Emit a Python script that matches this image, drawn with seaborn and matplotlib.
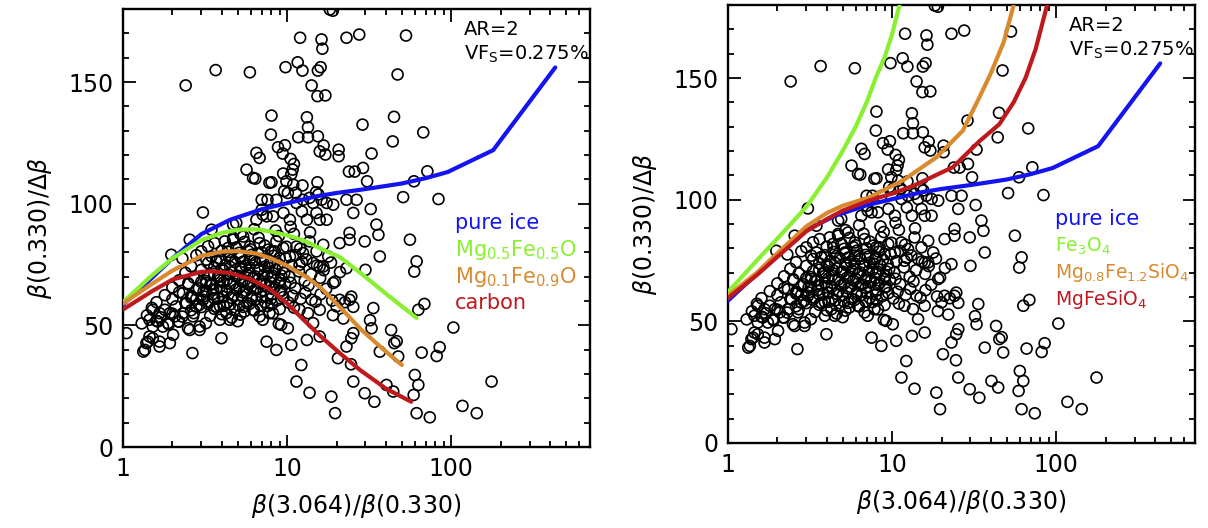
import numpy as np
import pandas as pd
import matplotlib
matplotlib.use("Agg")
import matplotlib.pyplot as plt
from matplotlib.ticker import LogLocator, FixedLocator, MultipleLocator, NullFormatter
import seaborn as sns

# ---------------- observed points (same in both panels) ----------------
sparse_x = [18.2, 19.0, 12.0, 16.2, 16.4, 23.0, 27.5, 53, 47.1,
            2.41, 3.67, 5.93, 9.78, 11.6, 12.4, 15.4, 16.0, 14.1, 15.3, 17.1,
            8.03, 13.2, 13.4, 7.96, 11.7, 13.4, 15.4, 8.8, 9.7, 9.4, 10.5,
            15.8, 16.7, 17.1, 20.6, 20.6, 6.5, 6.8, 11.0, 10.8, 5.66, 6.4,
            23.8, 25.8, 8.03, 9.46, 9.9, 12.4, 15.3, 3.07, 15.0, 10.1, 10.9,
            7.0, 7.6, 8.6, 12.5, 14.4, 16.2, 19.1, 23.0, 25.3, 7.0, 7.5,
            28.8, 44.8, 44.0, 67.5, 32.7, 29, 30.7, 71.5, 59.3, 50.9, 83.6,
            26.5, 32.3, 56, 61.5, 59.5, 36.7, 35, 36, 29.7, 63, 68.6, 103,
            43, 45, 46.5, 66, 81.5, 85, 33.5, 32, 32.7, 25.3, 24.6, 23, 36.7,
            47.5, 25.3, 29.7, 34, 40.3, 44.3, 60, 63, 59, 61.5, 74, 176, 117, 143,
            1.05, 1.33, 1.45, 1.67, 1.52, 1.39, 1.93, 2.02, 2.65, 3.98, 2.93, 2.49,
            7.5, 8.6, 10.6, 12.2, 11.4, 13.7, 18.6, 19.6, 13.2, 15.8, 20.4,
            25.3, 24.6, 20.9, 24, 24, 22.5, 24.5, 30, 19, 22,
            4.47, 5.5, 6.2, 7.1, 7.8, 9.2, 10.1, 11.9, 13.4, 14.4]
sparse_y = [179.8, 179.3, 168.2, 167.5, 163.7, 168.2, 169.5, 169.1, 153.1,
            148.6, 154.9, 154.0, 156.1, 158.1, 154.7, 154.7, 156.1, 148.6, 144.2, 144.5,
            136.2, 135.5, 131.4, 128.4, 127.3, 127.3, 127.7, 123.2, 124.0, 120.6, 118.4,
            121.5, 123.9, 120.2, 122.2, 119.5, 120.9, 118.8, 116.3, 114.0, 114.0, 110.3,
            113.2, 113.2, 108.8, 112.4, 109.2, 107.5, 108.8, 96.4, 104.7, 104.4, 107.8,
            101.6, 101.6, 101.6, 101.6, 100.3, 101.6, 99.6, 101.6, 96.2, 97.5, 94.8,
            132.5, 135.7, 125.6, 129.3, 120.6, 114.7, 109.2, 113.3, 109.2, 102.7, 101.9,
            101.6, 97.8, 85.2, 76.3, 72.1, 78.3, 91.4, 87.2, 84.5, 56.4, 58.8, 49.1,
            48.1, 42.7, 43.5, 38.8, 37.4, 41.0, 57.1, 52.1, 48.8, 46.8, 44.7, 41.3, 39.2,
            37.2, 26.9, 22.1, 18.6, 25.5, 22.8, 29.6, 25.5, 21.4, 13.9, 12.2, 26.9, 16.9, 13.9,
            46.8, 39.2, 45.4, 41.3, 49.5, 42.7, 42.7, 46.1, 38.6, 44.7, 48.1, 48.8,
            43.3, 39.9, 42.0, 33.7, 26.9, 22.3, 20.7, 13.9, 44.0, 45.4, 36.5,
            57.6, 61.8, 60.5, 85.2, 88.0, 59.5, 34.0, 72.8, 54.2, 52.8,
            52.3, 55.7, 56.4, 52.3, 55.0, 50.2, 48.8, 56.4, 55.0, 50.9]

mid_x = [3.46, 2.55, 1.97, 3.62, 4.17, 4.69, 4.69, 4.37, 3.0, 3.22, 3.71, 3.46,
         6.2, 7.8, 10.6, 9.6, 11.3, 15.5, 13.7, 11.4, 17.4,
         4.9, 6.5, 7.1, 8.2, 9.5, 10.4, 12.3, 13.2, 15.1, 15.8, 17.4,
         4.69, 5.4, 5.93, 6.8, 7.67, 8.6, 9.47, 10.4, 11.4, 12.5, 13.7, 15.1, 16.6,
         17.8, 5.16, 5.93, 7.86, 9.0, 11.9, 14.4, 15.8,
         1.45, 1.63, 1.67, 1.52, 1.75, 1.88, 1.93, 2.07, 2.17, 2.32, 2.44, 2.61,
         2.8, 3.07, 2.67, 2.32, 2.93, 2.55, 3.22, 3.54, 3.89, 4.07, 3.71, 4.27, 3.89,
         1.52, 1.42, 1.36, 1.67,
         16.6, 19.1, 23, 20.9, 24, 14.1, 15.8, 20]
mid_y = [89.3, 85.2, 79.0, 83.8, 84.5, 85.9, 91.4, 81.8, 80.4, 77.0, 76.3, 78.3,
         110.6, 108.6, 112.1, 105.2, 104.5, 103.8, 102.4, 100.3, 100.3,
         92.1, 93.4, 95.5, 94.8, 96.2, 93.4, 96.8, 93.4, 96.2, 93.4, 93.4,
         85.2, 86.5, 82.4, 83.8, 81.1, 84.5, 81.8, 78.3, 82.4, 79.7, 84.5, 80.4, 83.1,
         78.3, 78.3, 77.0, 75.6, 77.6, 74.9, 75.6, 74.2,
         52.3, 51.6, 55.0, 56.4, 49.5, 50.9, 55.0, 53.7, 51.6, 63.2, 59.1, 61.8,
         57.7, 60.5, 53.7, 55.0, 49.5, 48.1, 67.4, 64.6, 68.7, 61.8, 57.7, 55.0, 52.3,
         44.7, 43.3, 39.9, 43.3,
         74.2, 67.4, 73.5, 83.8, 60.5, 60.5, 56.4, 57.8]

dense_x = [2.3, 2.8, 3.9, 4.4, 5.2, 6.1, 6.9, 8.3, 9.8, 11.2, 13.1,
           2.6, 3.3, 4.2, 4.8, 5.6, 6.4, 7.3, 8.8, 10.6, 12.3, 15.2, 18.5,
           2.4, 3.0, 3.6, 4.1, 4.6, 5.3, 5.9, 6.7, 7.6, 8.5, 9.6, 11.8, 14.0, 16.7, 21.0,
           2.2, 2.7, 3.2, 3.8, 4.3, 4.9, 5.5, 6.2, 7.0, 8.0, 9.1, 10.3, 12.8, 15.9, 19.6,
           2.0, 2.5, 2.9, 3.4, 3.9, 4.5, 5.1, 5.8, 6.6, 7.4, 8.4, 9.7, 11.2, 13.5, 17.3,
           1.8, 2.2, 2.6, 3.1, 3.5, 4.0, 4.7, 5.4, 6.1, 6.9, 8.0, 9.2, 10.8, 12.9, 16.0,
           1.6, 2.0, 2.4, 2.8, 3.3, 3.8, 4.3, 5.0, 5.7, 6.5, 7.3, 8.7, 10.2, 12.1, 14.9, 18.8,
           1.5, 1.8, 2.1, 2.6, 3.0, 3.6, 4.1, 4.8, 5.4, 6.3, 7.6, 9.0, 11.0,
           1.4, 1.7, 2.0, 2.3, 2.7, 3.4, 4.0, 4.6, 5.2, 6.8, 8.2,
           1.3, 1.6, 1.9, 2.2, 3.2, 5.0, 8.9,
           3.3, 4.0, 4.9, 5.5, 6.0, 6.7, 7.3, 8.0, 8.9, 9.9, 11.0, 12.0, 13.8, 5.2, 6.3, 10.5, 8.5]
dense_y = [77.5, 78.8, 77.2, 78.5, 77.9, 79.0, 77.3, 78.6, 77.6, 78.9, 77.1,
           74.3, 75.6, 74.8, 76.0, 74.5, 75.7, 74.1, 75.4, 74.7, 76.1, 74.6, 75.8,
           71.6, 72.8, 71.2, 72.5, 71.8, 73.0, 71.4, 72.6, 71.1, 72.9, 71.5, 72.2, 71.0, 72.7, 71.9,
           68.5, 69.7, 68.2, 69.9, 68.8, 70.1, 68.4, 69.6, 68.1, 69.8, 68.6, 70.0, 68.3, 69.5, 68.0,
           65.6, 66.9, 65.2, 66.6, 65.9, 67.1, 65.4, 66.8, 65.1, 66.5, 65.7, 67.0, 65.3, 66.4, 65.0,
           62.4, 63.6, 62.1, 63.9, 62.7, 64.0, 62.3, 63.5, 62.0, 63.8, 62.6, 64.1, 62.2, 63.3, 62.8,
           59.5, 60.7, 59.2, 60.9, 59.8, 61.0, 59.3, 60.6, 59.1, 60.8, 59.6, 60.3, 59.4, 60.9, 59.7, 60.2,
           57.2, 56.4, 57.8, 56.2, 57.5, 56.8, 58.0, 56.5, 57.6, 56.1, 57.9, 56.7, 57.3,
           54.1, 53.3, 54.8, 53.6, 55.0, 53.9, 54.6, 53.2, 54.4, 53.7, 54.9,
           50.8, 51.9, 50.4, 51.5, 50.9, 51.7, 50.6,
           82.5, 80.7, 82.0, 84.3, 81.2, 86.0, 82.8, 80.4, 86.7, 82.3, 87.6, 81.5, 88.2, 87.5, 89.5, 90.5, 89.0]

core_x = [2.9, 3.3, 3.9, 4.5, 5.1, 5.9, 6.9, 8.1,
          2.6, 3.1, 3.6, 4.1, 4.6, 5.3, 6.1, 7.0, 8.0, 9.5,
          2.8, 3.2, 3.7, 4.3, 4.9, 5.6, 6.4, 7.2, 8.2, 9.0,
          2.5, 3.0, 3.5, 4.1, 4.7, 5.3, 6.0, 6.9, 7.9, 8.9, 10.5,
          3.3, 3.9, 4.4, 5.0, 5.7, 6.4, 7.2, 8.2, 9.2,
          3.6, 4.0, 4.5, 5.2, 5.9, 6.8, 7.7, 9.4,
          3.7, 4.6, 5.4, 6.3, 7.1, 8.0,
          4.4, 5.1, 5.8, 7.0, 8.4]
core_y = [58.3, 58.9, 57.9, 58.6, 58.1, 58.8, 58.2, 58.7,
          61.4, 61.9, 61.1, 61.7, 61.3, 62.0, 61.2, 61.8, 61.0, 61.6,
          64.6, 64.1, 64.9, 64.3, 64.8, 64.2, 64.7, 64.4, 64.9, 64.0,
          67.3, 67.8, 67.0, 67.6, 67.2, 67.9, 67.4, 67.1, 67.7, 67.3, 67.5,
          70.6, 70.2, 70.9, 70.4, 70.8, 70.1, 70.7, 70.3, 70.5,
          73.8, 73.3, 74.0, 73.5, 73.9, 73.2, 73.7, 73.4,
          76.4, 76.9, 76.2, 76.7, 76.5, 76.1,
          80.2, 79.8, 80.5, 80.0, 80.4]

# ---------------- model curves ----------------
ice_x = [1, 1.5, 2, 3, 4.5, 7, 10, 15, 20, 30, 50, 70, 95, 180, 430]
ice_y = [58.5, 69.5, 77.5, 87.5, 93.4, 97.7, 100.2, 103, 104.4, 106, 108.3, 110.5, 113, 122, 156]

mgfeo55_x = [1, 1.5, 2, 3, 4, 5, 6.5, 8, 10, 12.5, 16, 21, 28, 40, 61.5]
mgfeo55_y = [59.5, 70.5, 77.5, 85, 88, 89.3, 89.5, 88.5, 87, 85, 81.5, 78, 71.5, 63, 53]
mgfeo19_x = [1, 1.5, 2, 3, 4, 5, 6.5, 8, 10, 13, 16, 21, 28, 38, 50]
mgfeo19_y = [59, 67, 72.5, 78.5, 80.3, 80.5, 79.5, 77.5, 74.5, 70, 65.5, 57.5, 48.5, 40.5, 33.7]
carbon_x = [1, 1.5, 2, 3, 3.5, 4.5, 6, 8, 10, 12.5, 16, 21, 28, 40, 57]
carbon_y = [56.5, 64, 68.8, 72, 72.2, 71.5, 69, 64.5, 59, 52.5, 45.5, 38.5, 31.5, 24, 18.6]

fe3o4_x = [1, 1.5, 2, 3, 4, 5, 6, 7, 8, 9, 10, 11.1]
fe3o4_y = [62, 75, 84, 97, 109, 120, 130, 140, 150.5, 158.5, 168, 180]
mg08_x = [1, 1.5, 2, 3, 4, 5, 7.3, 11.7, 18.7, 27, 34, 40, 48, 55]
mg08_y = [60.5, 70, 78, 89, 94.5, 97.5, 101, 108, 117.5, 128.4, 142, 152, 165, 180]
mgfesio4_x = [1, 1.5, 2, 3, 4, 5, 7.3, 10, 13.7, 23.5, 34, 45, 55, 65, 75, 88]
mgfesio4_y = [59.5, 69, 76.5, 87, 92, 95.5, 99.7, 102.5, 105.9, 113.4, 124, 131, 140, 150, 162, 180]

left_labels = ["pure ice", r"Mg$_{0.5}$Fe$_{0.5}$O", r"Mg$_{0.1}$Fe$_{0.9}$O", "carbon"]
right_labels = ["pure ice", r"Fe$_3$O$_4$", r"Mg$_{0.8}$Fe$_{1.2}$SiO$_4$", r"MgFeSiO$_4$"]
colors = ["#1414F0", "#88F030", "#D98A2E", "#BE1A1E"]

x_ticks = [1, 10, 100]
y_ticks = [0, 50, 100, 150]

# ---------------- figure ----------------
sns.set_theme(style="ticks")
plt.rcParams["font.family"] = ["DejaVu Sans"]
plt.rcParams["mathtext.fontset"] = "dejavusans"

obs = pd.DataFrame({"ratio": sparse_x + mid_x + dense_x + core_x,
                    "snr": sparse_y + mid_y + dense_y + core_y})

fig = plt.figure(figsize=(12.08, 5.28), dpi=100)
ax1 = fig.add_axes([0.1018, 0.1534, 0.3866, 0.8295])
ax2 = fig.add_axes([0.6026, 0.1610, 0.3866, 0.8295])

left_curves = [(ice_x, ice_y), (mgfeo55_x, mgfeo55_y), (mgfeo19_x, mgfeo19_y), (carbon_x, carbon_y)]
right_curves = [(ice_x, ice_y), (fe3o4_x, fe3o4_y), (mg08_x, mg08_y), (mgfesio4_x, mgfesio4_y)]

panels = [(ax1, left_curves, left_labels, 105, [15, 15, 15, 15]),
          (ax2, right_curves, right_labels, 98, [15, 13.5, 13.5, 13.5])]

for ax, curves, labels, lab_x, lab_fs in panels:
    ax.set_xscale("log")
    sns.scatterplot(data=obs, x="ratio", y="snr", ax=ax, marker="o", s=62,
                    facecolors="none", edgecolors="black", linewidths=1.2, zorder=2)
    for (cx, cy), col in zip(curves, colors):
        sns.lineplot(x=cx, y=cy, ax=ax, color=col, linewidth=3.0, sort=False,
                     estimator=None, zorder=3)
    ax.set_xlim(1, 700)
    ax.set_ylim(0, 180)
    ax.xaxis.set_major_locator(FixedLocator(x_ticks))
    ax.set_xticklabels([str(t) for t in x_ticks])
    ax.xaxis.set_minor_locator(LogLocator(base=10, subs=np.arange(2, 10)))
    ax.xaxis.set_minor_formatter(NullFormatter())
    ax.yaxis.set_major_locator(FixedLocator(y_ticks))
    ax.set_yticklabels([str(t) for t in y_ticks])
    ax.yaxis.set_minor_locator(MultipleLocator(10))
    ax.tick_params(which="both", direction="in", top=True, right=True, width=1.3,
                   colors="black", labelcolor="black")
    ax.tick_params(which="major", length=9, labelsize=17, pad=7)
    ax.tick_params(which="minor", length=4.5)
    for sp in ax.spines.values():
        sp.set_linewidth(1.7)
        sp.set_color("black")
    ax.set_xlabel(r"$\beta$(3.064)/$\beta$(0.330)", fontsize=17, labelpad=8, color="black")
    ax.set_ylabel(r"$\beta$(0.330)/$\Delta\beta$", fontsize=17, labelpad=10, color="black")
    ax.grid(False)
    ax.set_facecolor("white")
    for lbl, col, yy, fs in zip(labels, colors, [92, 81, 70, 59], lab_fs):
        ax.text(lab_x, yy, lbl, color=col, fontsize=fs, ha="left", va="center")
    ax.text(120, 171.6, "AR=2", fontsize=14, ha="left", va="center", color="black")
    ax.text(120, 161.3, r"VF$_\mathrm{S}$=0.275%", fontsize=14, ha="left", va="center", color="black")

fig.savefig("out.png", dpi=100, facecolor="white")
